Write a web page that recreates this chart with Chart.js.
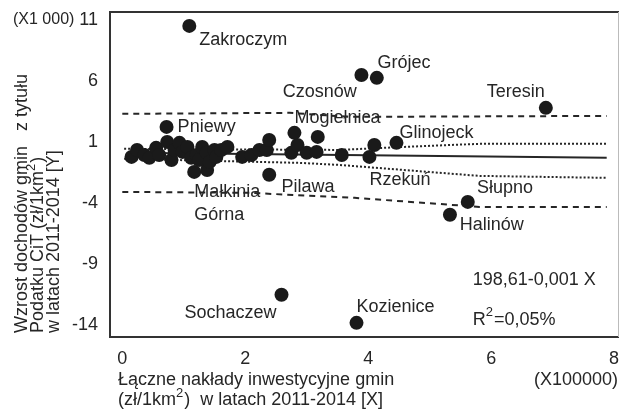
<!DOCTYPE html>
<html>
<head>
<meta charset="utf-8">
<script src="https://cdn.jsdelivr.net/npm/chart.js@4.4.1/dist/chart.umd.min.js"></script>
<style>
  body { margin: 0; background: #fff; }
  #wrap { width: 620px; height: 417px; }
</style>
</head>
<body>
<div id="wrap"><canvas id="scatterChart" width="620" height="417"></canvas></div>
<script>
// Gminy: nakłady inwestycyjne (x 100000 zł/km2) vs wzrost dochodów CIT (x 1000 zł/km2)
const pointX = [
  1.09, 3.89, 4.14, 6.89, 4.46, 4.10, 4.02, 3.57, 5.62, 5.33, 2.59, 3.81, 2.39, 1.17, 1.38, 0.72,
  0.15, 0.24, 0.36, 0.44, 0.55, 0.60, 0.73, 0.80, 0.85, 0.93, 0.98, 1.06, 1.12, 1.21, 1.25, 1.30,
  1.37, 1.42, 1.50, 1.53, 1.61, 1.71, 1.95, 2.10, 2.23, 2.35, 2.39, 2.75, 2.85, 2.80, 3.00, 3.16, 3.18
];
const pointY = [
  10.51, 6.49, 6.25, 3.79, 0.92, 0.75, -0.23, -0.07, -3.92, -4.98, -11.54, -13.84, -1.70, -1.46, -1.30, 2.23,
  -0.23, 0.34, -0.07, -0.31, 0.51, -0.07, 1.00, -0.48, 0.34, 0.92, 0.18, 0.59, -0.31, -0.07, -0.48, 0.59,
  0.10, -0.64, 0.34, -0.23, 0.34, 0.59, -0.23, -0.07, 0.34, 0.34, 1.16, 0.10, 0.75, 1.74, 0.10, 0.18, 1.41
];

// Linia regresji i granice
const fitX = [0.11, 7.88];
const fitY = [0.10, -0.31];
const confUpX = [0.03, 3.53, 4.59, 5.81, 7.88];
const confUpY = [0.43, 0.34, 0.59, 0.84, 0.84];
const confLoX = [0.03, 2.88, 3.53, 5.81, 7.88];
const confLoY = [-0.39, -0.72, -0.89, -1.79, -1.95];
const predUpX = [0.0, 2.72, 3.70, 7.88];
const predUpY = [3.30, 3.38, 3.05, 3.13];
const predLoX = [0.0, 2.07, 3.78, 5.81, 7.88];
const predLoY = [-3.10, -3.18, -3.59, -4.33, -4.33];

const xTicks = [0, 2, 4, 6, 8];
const yTicks = [-14, -9, -4, 1, 6, 11];

const pointNames = [
  'Zakroczym', 'Czosnów', 'Grójec', 'Teresin', 'Mogiełnica', 'Pniewy', 'Glinojeck', 'Rzekuń',
  'Słupno', 'Halinów', 'Pilawa', 'Małkinia', 'Górna', 'Sochaczew', 'Kozienice'
];
const nameX = [1.25, 2.61, 4.15, 5.93, 2.80, 0.90, 4.51, 4.02, 5.77, 5.49, 2.59, 1.17, 1.17, 1.01, 3.81];
const nameY = [9.36, 5.10, 7.48, 5.10, 2.97, 2.23, 1.74, -2.11, -2.77, -5.80, -2.69, -3.10, -4.98, -13.02, -12.52];

const FAMILY = '"Liberation Sans", Arial, sans-serif';
const FONT = '18px ' + FAMILY;
const SUP_FONT = '13px ' + FAMILY;
const INK = '#262626';

function toPoints(xs, ys) {
  return xs.map((x, i) => ({ x: x, y: ys[i] }));
}

function lineSet(xs, ys, dash) {
  return {
    type: 'line',
    data: toPoints(xs, ys),
    borderColor: INK,
    borderWidth: 2,
    borderDash: dash,
    pointRadius: 0,
    fill: false,
    tension: 0,
  };
}

// no extra padding for edge tick labels
function noPadding(s) {
  s.paddingLeft = 0;
  s.paddingRight = 0;
  s.paddingTop = 0;
  s.paddingBottom = 0;
}

// text with a superscript piece: parts = [[text, isSup], ...]
function drawSup(ctx, parts, x, y) {
  parts.forEach(([t, sup]) => {
    ctx.font = sup ? SUP_FONT : FONT;
    ctx.fillText(t, x, sup ? y - 7 : y);
    x += ctx.measureText(t).width + (sup ? 1 : 0);
  });
  ctx.font = FONT;
}

// Napisy, ramka i opisy osi
const textPlugin = {
  id: 'texts',
  afterDatasetsDraw(chart) {
    const ctx = chart.ctx;
    const a = chart.chartArea;
    const sx = chart.scales.x;
    const sy = chart.scales.y;
    ctx.save();

    // ramka
    ctx.strokeStyle = '#333';
    ctx.lineWidth = 2;
    ctx.beginPath();
    ctx.moveTo(a.right, a.top);
    ctx.lineTo(a.left, a.top);
    ctx.lineTo(a.left, a.bottom);
    ctx.lineTo(a.right, a.bottom);
    ctx.stroke();
    ctx.strokeStyle = '#bbb';
    ctx.lineWidth = 1;
    ctx.beginPath();
    ctx.moveTo(a.right - 0.5, a.top);
    ctx.lineTo(a.right - 0.5, a.bottom);
    ctx.stroke();

    ctx.fillStyle = INK;
    ctx.font = FONT;
    ctx.textAlign = 'left';
    ctx.textBaseline = 'middle';

    pointNames.forEach((name, i) => {
      ctx.fillText(name, sx.getPixelForValue(nameX[i]), sy.getPixelForValue(nameY[i]));
    });

    // równanie regresji
    const ex = sx.getPixelForValue(5.70);
    ctx.fillText('198,61-0,001 X', ex, sy.getPixelForValue(-10.31));
    drawSup(ctx, [['R', false], ['2', true], ['=0,05%', false]], ex, sy.getPixelForValue(-13.59));

    // opisy osi
    ctx.font = '16px ' + FAMILY;
    ctx.fillText('(X1 000)', 13, sy.getPixelForValue(11));
    ctx.font = FONT;
    ctx.fillText('Łączne nakłady inwestycyjne gmin', 118, 380);
    drawSup(ctx, [['(zł/1km', false], ['2', true], [')  w latach 2011-2014 [X]', false]], 118, 400);
    ctx.textAlign = 'right';
    ctx.fillText('(X100000)', 618, 380);

    ctx.translate(0, 333);
    ctx.rotate(-Math.PI / 2);
    ctx.textAlign = 'left';
    ctx.fillText('Wzrost dochodów gmin   z tytułu', 0, 22);
    drawSup(ctx, [['Podatku CiT (zł/1km', false], ['2', true], [')', false]], 0, 38);
    ctx.fillText('w latach 2011-2014 [Y]', 0, 54);
    ctx.restore();
  },
};

const chart = new Chart(document.getElementById('scatterChart'), {
  type: 'scatter',
  data: {
    datasets: [
      {
        data: toPoints(pointX, pointY),
        backgroundColor: '#1a1a1a',
        borderWidth: 0,
        pointRadius: 7,
      },
      lineSet(fitX, fitY, []),
      lineSet(confUpX, confUpY, [2, 2]),
      lineSet(confLoX, confLoY, [2, 2]),
      lineSet(predUpX, predUpY, [6, 5]),
      lineSet(predLoX, predLoY, [6, 5]),
    ],
  },
  options: {
    responsive: false,
    animation: false,
    layout: { autoPadding: false, padding: { top: 12, right: 1, left: 0, bottom: 0 } },
    plugins: {
      legend: { display: false },
      tooltip: { enabled: false },
    },
    scales: {
      x: {
        type: 'linear',
        min: -0.2,
        max: 8.08,
        grid: { display: false, drawTicks: false },
        border: { display: false },
        afterBuildTicks: (s) => { s.ticks = xTicks.map((v) => ({ value: v })); },
        afterFit: (s) => { s.height = 80; noPadding(s); },
        ticks: { color: INK, font: { size: 18, family: FAMILY }, padding: 11, maxRotation: 0 },
      },
      y: {
        type: 'linear',
        min: -15,
        max: 11.65,
        grid: { display: false, drawTicks: false },
        border: { display: false },
        afterBuildTicks: (s) => { s.ticks = yTicks.map((v) => ({ value: v })); },
        afterFit: (s) => { s.width = 110; noPadding(s); },
        ticks: { color: INK, font: { size: 18, family: FAMILY }, padding: 12 },
      },
    },
  },
  plugins: [textPlugin],
});
</script>
</body>
</html>
